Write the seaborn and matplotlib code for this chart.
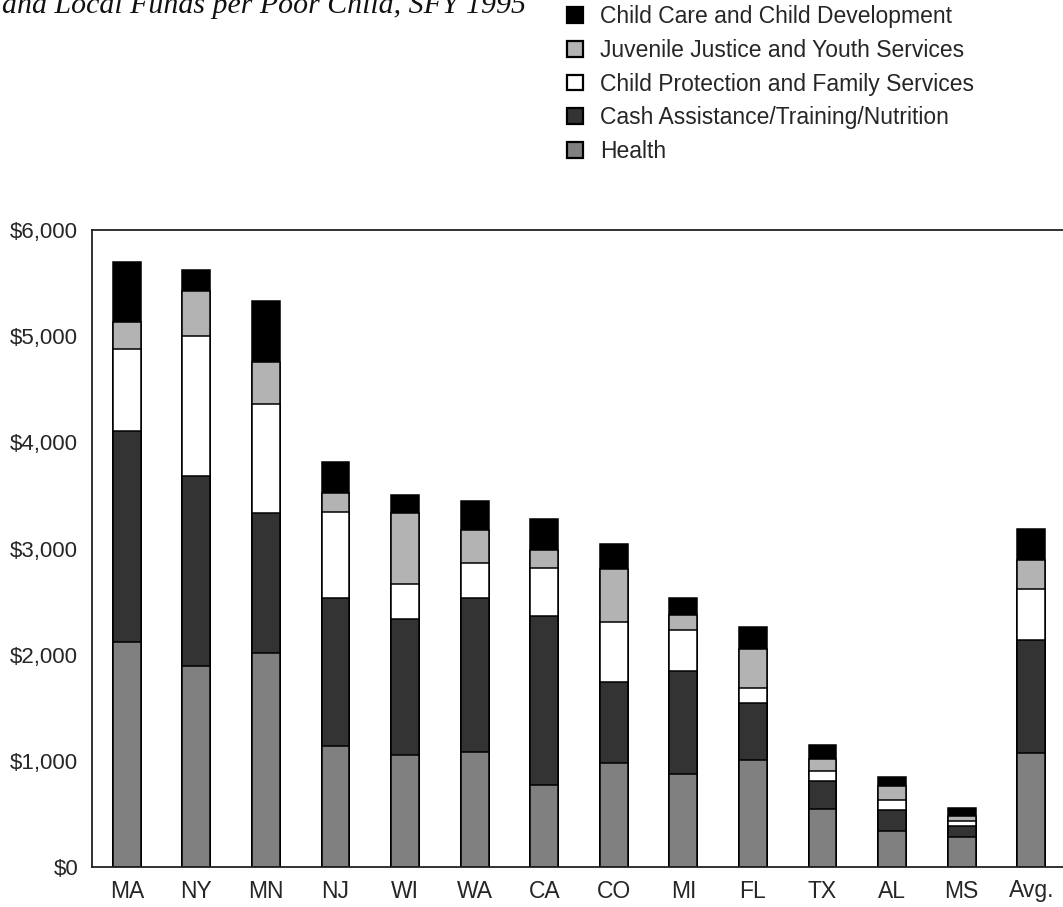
import numpy as np
import pandas as pd
import matplotlib
matplotlib.use("Agg")
import matplotlib.pyplot as plt
from matplotlib.patches import Patch
import seaborn as sns

states = ["MA", "NY", "MN", "NJ", "WI", "WA", "CA", "CO", "MI", "FL", "TX", "AL", "MS", "Avg."]
health = [2117, 1891, 2017, 1143, 1052, 1080, 773, 976, 873, 1008, 549, 342, 283, 1074]
cash = [1990, 1795, 1320, 1392, 1282, 1455, 1589, 770, 971, 534, 261, 198, 103, 1068]
protection = [772, 1315, 1024, 805, 336, 324, 452, 566, 390, 145, 98, 94, 50, 472]
juvenile = [254, 424, 396, 179, 667, 317, 170, 497, 137, 368, 113, 132, 45, 282]
childcare = [563, 198, 574, 292, 169, 276, 296, 232, 161, 210, 132, 82, 78, 290]

series_names = ["Health", "Cash Assistance/Training/Nutrition",
                "Child Protection and Family Services",
                "Juvenile Justice and Youth Services",
                "Child Care and Child Development"]
series_colors = ["#808080", "#333333", "#ffffff", "#b3b3b3", "#000000"]
yticks = [0, 1000, 2000, 3000, 4000, 5000, 6000]
ytick_labels = ["$0", "$1,000", "$2,000", "$3,000", "$4,000", "$5,000", "$6,000"]
title_text = "and Local Funds per Poor Child, SFY 1995"

sns.set_style("white")
plt.rcParams["font.family"] = ["Liberation Sans", "DejaVu Sans"]

df = pd.DataFrame({"state": states, "Health": health,
                   "Cash Assistance/Training/Nutrition": cash,
                   "Child Protection and Family Services": protection,
                   "Juvenile Justice and Youth Services": juvenile,
                   "Child Care and Child Development": childcare})
cum = df[series_names].cumsum(axis=1)

fig = plt.figure(figsize=(10.63, 9.07), dpi=100)
ax = fig.add_axes([92 / 1063, 1 - 867 / 907, 974 / 1063, (867 - 230) / 907])

for name, color in reversed(list(zip(series_names, series_colors))):
    sns.barplot(x=df["state"], y=cum[name], order=states, color=color,
                edgecolor="black", linewidth=1.1, width=0.4, errorbar=None,
                saturation=1, ax=ax)

ax.set_xlim(-0.5, 13.5)
ax.set_ylim(0, 6000)
ax.set_xlabel("")
ax.set_ylabel("")
ax.set_yticks(yticks)
ax.set_yticklabels(ytick_labels, fontsize=16)
ax.set_xticks(range(len(states)))
ax.set_xticklabels(states, fontsize=16.5)
ax.set_xticks(np.arange(0.5, len(states) - 0.5), minor=True)
ax.tick_params(axis="x", which="major", length=0, pad=9)
ax.tick_params(axis="x", which="minor", direction="inout", length=13, width=1.2, color="#222222")
ax.tick_params(axis="y", which="major", direction="inout", length=16, width=1.2, pad=2, color="#222222")
for s in ["left", "bottom", "top"]:
    ax.spines[s].set_visible(True)
    ax.spines[s].set_linewidth(1.3)
    ax.spines[s].set_color("#222222")
ax.spines["right"].set_visible(False)
ax.grid(False)

handles = [Patch(facecolor=c, edgecolor="black", linewidth=1.6, label=n)
           for n, c in zip(series_names, series_colors)][::-1]
fig.legend(handles=handles, loc="upper left", bbox_to_anchor=(567 / 1063, 1 - 5 / 907),
           frameon=False, fontsize=16.5, handlelength=0.68, handleheight=0.68,
           handletextpad=0.75, labelspacing=0.47, borderpad=0, borderaxespad=0)

fig.text(2 / 1063, 1 - 13 / 907, title_text, family=["Liberation Serif", "DejaVu Serif"],
         style="italic", fontsize=21.5, va="baseline", ha="left", color="#111111")

fig.savefig("out.png", dpi=100)
